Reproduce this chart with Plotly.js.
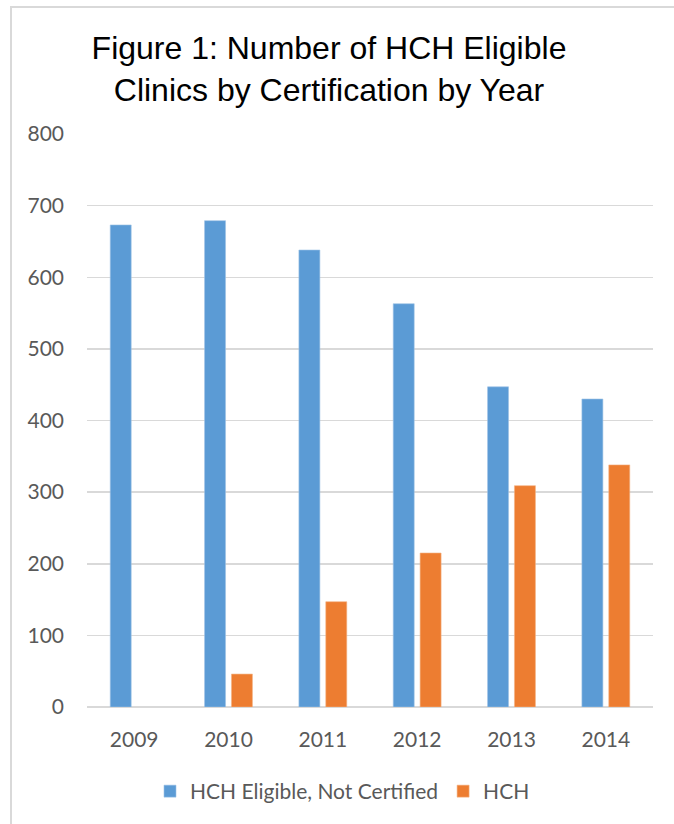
<!DOCTYPE html>
<html>
<head>
<meta charset="utf-8">
<script src="https://cdn.plot.ly/plotly-3.0.1.min.js"></script>
<style>
  html, body { margin: 0; padding: 0; background: #fff; }
  #wrap { position: relative; width: 674px; height: 824px; overflow: hidden; }
  #chart { position: absolute; left: 0; top: 0; width: 674px; height: 824px; }
  #frame { position: absolute; left: 10px; top: 6px; width: 700px; height: 850px;
           border-left: 2px solid #d9d9d9; border-top: 2px solid #d9d9d9; pointer-events: none; }
</style>
</head>
<body>
<div id="wrap">
  <div id="chart"></div>
  <div id="frame"></div>
</div>
<script>
const years = ['2009', '2010', '2011', '2012', '2013', '2014'];
const notCertified = [673, 679, 638, 563, 447, 430];
const hch = [null, 46, 147, 215, 309, 338];
const seriesNames = ['HCH Eligible, Not Certified', 'HCH'];
const yTicks = [0, 100, 200, 300, 400, 500, 600, 700, 800];

const tickFont = { family: 'Lato, "Open Sans", sans-serif', size: 21, color: '#595959' };

const traces = [
  {
    type: 'bar', name: seriesNames[0], x: years, y: notCertified,
    marker: { color: '#5B9BD5', line: { color: '#9DC3E6', width: 0.6 } },
    hoverinfo: 'x+y'
  },
  {
    type: 'bar', name: seriesNames[1], x: years, y: hch,
    marker: { color: '#ED7D31', line: { color: '#F4B183', width: 0.6 } },
    hoverinfo: 'x+y'
  }
];

const layout = {
  width: 674, height: 824,
  margin: { l: 87, r: 20.5, t: 134, b: 116.7, pad: 0 },
  paper_bgcolor: '#ffffff', plot_bgcolor: '#ffffff',
  barmode: 'group', bargap: 0.43, bargroupgap: 0.22,
  title: {
    text: 'Figure 1: Number of HCH Eligible<br>Clinics by Certification by Year',
    font: { family: '"Liberation Sans", Arial, sans-serif', size: 32, color: '#000000' },
    xref: 'container', x: 329 / 674, xanchor: 'center',
    yref: 'container', y: 1 - 59 / 824, yanchor: 'top'
  },
  xaxis: {
    type: 'category', showgrid: false, showline: false, ticks: '',
    tickfont: tickFont, ticklabelstandoff: 18, fixedrange: true
  },
  yaxis: {
    range: [0, 800], tickvals: yTicks, ticktext: yTicks.map(String),
    showgrid: true, gridcolor: '#D9D9D9', gridwidth: 1.5,
    zeroline: true, zerolinecolor: '#D9D9D9', zerolinewidth: 1.5,
    showline: false, ticks: '', tickfont: tickFont, ticklabelstandoff: 22, fixedrange: true
  },
  showlegend: true,
  legend: {
    orientation: 'h', xref: 'container', yref: 'container',
    x: 150 / 674, xanchor: 'left', y: 1 - 771 / 824, yanchor: 'top',
    font: tickFont, itemwidth: 30, traceorder: 'normal'
  }
};

Plotly.newPlot('chart', traces, layout, { displayModeBar: false, staticPlot: true });
</script>
</body>
</html>
